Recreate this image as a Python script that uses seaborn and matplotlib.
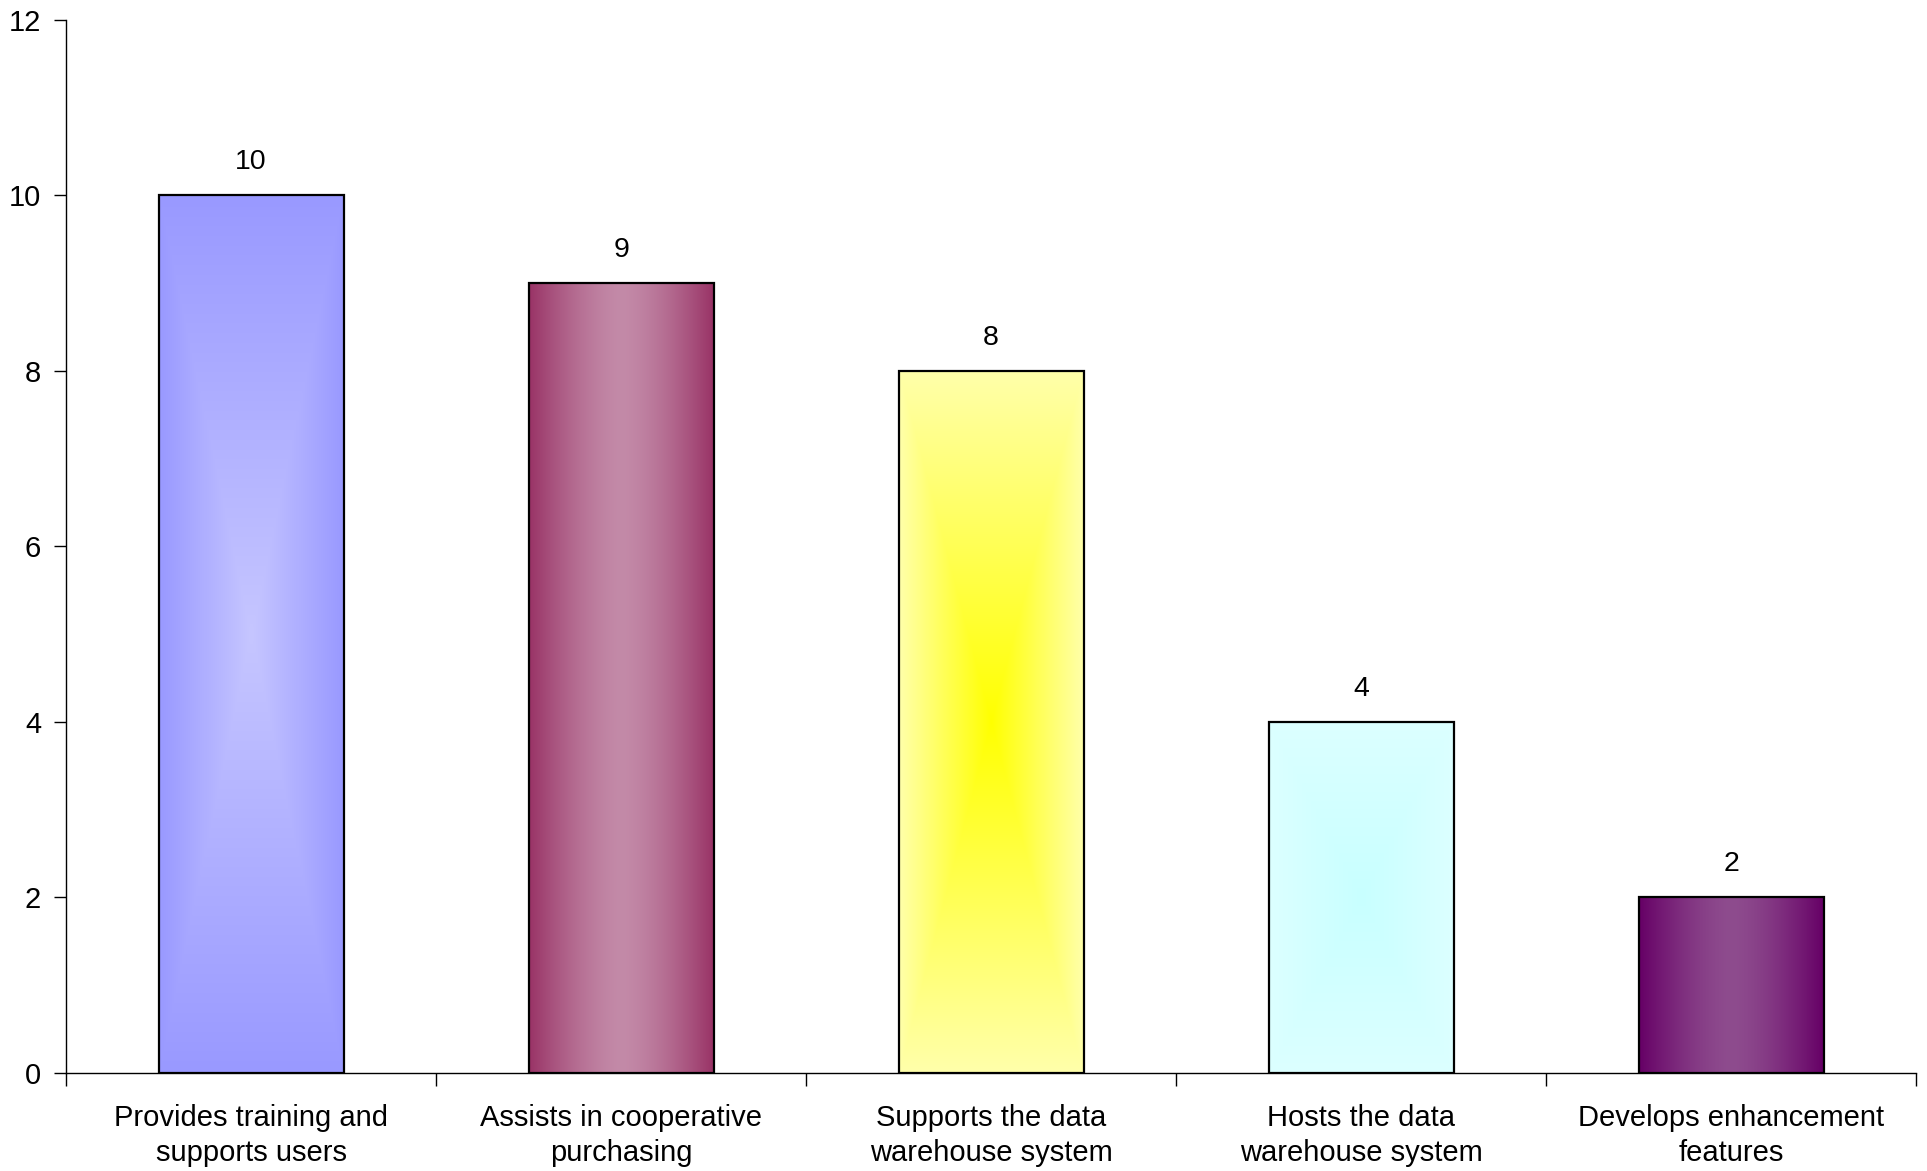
import matplotlib
matplotlib.use('Agg')
import matplotlib.pyplot as plt
import matplotlib.colors as mcolors
import numpy as np
import seaborn as sns

categories = ['Provides training and\nsupports users',
              'Assists in cooperative\npurchasing',
              'Supports the data\nwarehouse system',
              'Hosts the data\nwarehouse system',
              'Develops enhancement\nfeatures']
values = [10, 9, 8, 4, 2]
# gradient: edge colour, centre colour, kind
edge_colors = ['#9999FF', '#993366', '#FFFFAA', '#DCFFFF', '#660066']
center_colors = ['#C6C6FF', '#C38AA8', '#FFFF00', '#C8FFFF', '#8E4C8E']
grad_kind = ['center', 'horizontal', 'center', 'center', 'horizontal']

sns.set_style('white')
plt.rcParams['font.family'] = ['Liberation Sans', 'DejaVu Sans']
plt.rcParams['text.color'] = 'black'
plt.rcParams['xtick.color'] = 'black'
plt.rcParams['ytick.color'] = 'black'

fig = plt.figure(figsize=(19.27, 11.71), dpi=100)
ax = fig.add_axes([0.0343, 0.0837, 0.96, 0.8993])

sns.barplot(x=categories, y=values, hue=categories, palette=edge_colors,
            legend=False, width=0.5, edgecolor='black', linewidth=1.6, ax=ax)


def gradient(edge, center, kind, n=200):
    u = np.linspace(-1, 1, n)
    X, Y = np.meshgrid(u, u)
    if kind == 'horizontal':
        d = np.abs(X) ** 1.5
    else:
        d = np.maximum(np.abs(X), np.abs(Y))
    d = d[..., None]
    e = np.array(mcolors.to_rgb(edge))
    c = np.array(mcolors.to_rgb(center))
    return c + (e - c) * d


for i, patch in enumerate(ax.patches):
    x0, y0 = patch.get_x(), patch.get_y()
    w, h = patch.get_width(), patch.get_height()
    img = gradient(edge_colors[i], center_colors[i], grad_kind[i])
    im = ax.imshow(img, extent=[x0, x0 + w, y0, y0 + h], origin='lower',
                   aspect='auto', zorder=1, interpolation='bilinear')
    im.set_clip_path(patch)
    patch.set_facecolor('none')
    patch.set_zorder(2)

for i, v in enumerate(values):
    ax.annotate(str(v), xy=(i, v), xytext=(0, 24), textcoords='offset points',
                ha='center', va='center', fontsize=20.5, color='black')

ax.set_xlim(-0.5, 4.5)
ax.set_ylim(0, 12)
ax.set_yticks(np.arange(0, 13, 2))
ax.set_xticks(np.arange(-0.5, 5, 1), minor=True)
ax.tick_params(axis='x', which='major', length=0, pad=22, labelsize=21)
ax.tick_params(axis='x', which='minor', length=9, width=1, direction='out')
ax.tick_params(axis='y', length=9, width=1, direction='out', pad=9, labelsize=21)
for lab in ax.get_xticklabels():
    lab.set_linespacing(1.35)
ax.xaxis.set_ticks_position('bottom')
ax.yaxis.set_ticks_position('left')
for s in ['top', 'right']:
    ax.spines[s].set_visible(False)
for s in ['left', 'bottom']:
    ax.spines[s].set_color('black')
    ax.spines[s].set_linewidth(1)
ax.set_xlabel('')
ax.set_ylabel('')

fig.savefig('out.png', dpi=100)
